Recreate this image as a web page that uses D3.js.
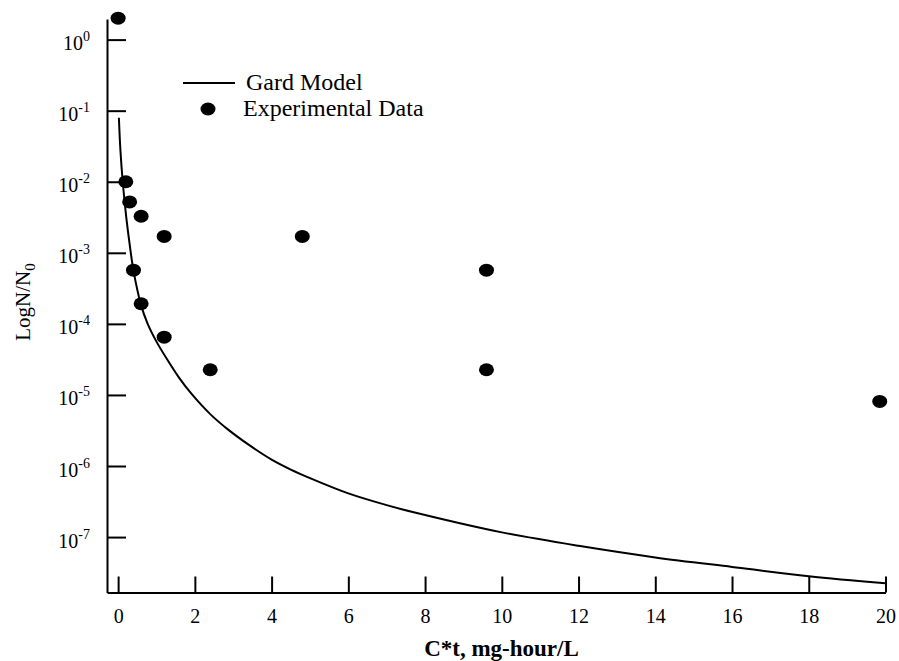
<!DOCTYPE html>
<html lang="en">
<head>
    <meta charset="UTF-8">
    <title>Gard Model vs Experimental Data</title>
    <script src="https://cdn.jsdelivr.net/npm/d3@7"></script>
    <style>
        body {
            margin: 0;
            background-color: #fff;
        }

        svg {
            font-family: "Liberation Serif", "Times New Roman", serif;
        }

        .axis path,
        .axis line {
            stroke: #000;
            stroke-width: 2;
        }

        .axis text {
            font-family: "Liberation Serif", "Times New Roman", serif;
            font-size: 20px;
            fill: #000;
        }

        .legend {
            font-size: 24px;
        }
    </style>
</head>
<body>
    <script>
        // Gard model curve: C*t and log10(N/N0)
        const modelCt = [0.02, 0.06, 0.12, 0.21, 0.32, 0.4, 0.6, 0.77, 1.0, 1.3, 1.6, 1.92, 2.4, 2.86, 3.4, 4, 4.5, 5, 6, 7, 8, 10, 12, 14, 16, 18, 20];
        const modelLog = [-1.10, -1.56, -2.0, -2.49, -2.96, -3.25, -3.74, -4.0, -4.25, -4.52, -4.767, -4.99, -5.27, -5.485, -5.70, -5.91, -6.05, -6.17, -6.385, -6.55, -6.69, -6.934, -7.123, -7.286, -7.42, -7.55, -7.65];

        // experimental points: C*t and N/N0
        const expCt = [0, 0.2, 0.3, 0.6, 1.2, 0.4, 0.6, 1.2, 2.4, 4.8, 9.6, 9.6, 19.85];
        const expRatio = [2.0, 1.0e-2, 5.2e-3, 3.27e-3, 1.7e-3, 5.7e-4, 1.92e-4, 6.5e-5, 2.26e-5, 1.7e-3, 5.7e-4, 2.26e-5, 8.1e-6];

        const xTicks = [0, 2, 4, 6, 8, 10, 12, 14, 16, 18, 20];
        const yExponents = [0, -1, -2, -3, -4, -5, -6, -7];

        const legendItems = ['Gard Model', 'Experimental Data'];
        const xTitle = 'C*t, mg-hour/L';

        const w = 899;
        const h = 661;
        const plotLeft = 107;
        const plotRight = 886;
        const plotTop = 19;
        const plotBottom = 592.5;

        const svg = d3.select('body')
                    .append('svg')
                    .attr('width', w)
                    .attr('height', h);

        const xScale = d3.scaleLinear([-0.29, 20], [plotLeft, plotRight - 0.5]);
        const yScale = d3.scaleLog([Math.pow(10, -7.78), Math.pow(10, 0.29)], [plotBottom, plotTop]);

        // x axis, ticks pointing up into the plot
        const xAxis = d3.axisBottom(xScale)
                        .tickValues(xTicks)
                        .tickFormat(d3.format('d'))
                        .tickSizeInner(-16)
                        .tickSizeOuter(0)
                        .tickPadding(16);
        svg.append('g')
        .attr('class', 'axis')
        .attr('transform', `translate(0, ${plotBottom})`)
        .call(xAxis);

        // y axis, ticks pointing right, labels as 10 with superscript
        const yAxis = d3.axisLeft(yScale)
                        .tickValues(yExponents.map(e => Math.pow(10, e)))
                        .tickSizeInner(-19)
                        .tickSizeOuter(0)
                        .tickPadding(17);
        const yg = svg.append('g')
        .attr('class', 'axis')
        .attr('transform', `translate(${plotLeft}, 0)`)
        .call(yAxis);

        yg.selectAll('.tick text')
        .each(function(d, i) {
            const t = d3.select(this);
            t.text(null).attr('dy', '0.5em');
            t.append('tspan').text('10');
            t.append('tspan')
            .attr('font-size', '14px')
            .attr('dy', '-9')
            .text(yExponents[i]);
        });

        // model curve
        const modelData = modelCt.map((c, i) => ({ x: c, y: Math.pow(10, modelLog[i]) }));
        const line = d3.line()
                    .x(d => xScale(d.x))
                    .y(d => yScale(d.y))
                    .curve(d3.curveCatmullRom.alpha(0.5));

        svg.append('path')
        .datum(modelData)
        .attr('d', line)
        .attr('fill', 'none')
        .attr('stroke', '#000')
        .attr('stroke-width', 2);

        // experimental data
        const expData = expCt.map((c, i) => ({ x: c, y: expRatio[i] }));
        svg.selectAll('.dot')
        .data(expData)
        .enter()
        .append('ellipse')
        .attr('class', 'dot')
        .attr('cx', d => xScale(d.x))
        .attr('cy', d => yScale(d.y))
        .attr('rx', 7.5)
        .attr('ry', 6.5)
        .attr('fill', '#000');

        // legend
        const legend = svg.append('g').attr('class', 'legend');
        legend.append('line')
        .attr('x1', 183).attr('x2', 235)
        .attr('y1', 83).attr('y2', 83)
        .attr('stroke', '#000')
        .attr('stroke-width', 2);
        legend.append('text')
        .attr('x', 246).attr('y', 90)
        .text(legendItems[0]);
        legend.append('ellipse')
        .attr('cx', 208).attr('cy', 109)
        .attr('rx', 7.5).attr('ry', 6.5)
        .attr('fill', '#000');
        legend.append('text')
        .attr('x', 243).attr('y', 116)
        .text(legendItems[1]);

        // axis titles
        svg.append('text')
        .attr('x', (plotLeft + plotRight) / 2 + 5)
        .attr('y', 656)
        .attr('text-anchor', 'middle')
        .attr('font-size', '23px')
        .attr('font-weight', 'bold')
        .text(xTitle);

        const yTitle = svg.append('text')
        .attr('transform', 'translate(30, 302) rotate(-90)')
        .attr('text-anchor', 'middle')
        .attr('font-size', '21px');
        yTitle.append('tspan').text('LogN/N');
        yTitle.append('tspan')
        .attr('font-size', '15px')
        .attr('dy', '5')
        .text('0');
    </script>
</body>
</html>
